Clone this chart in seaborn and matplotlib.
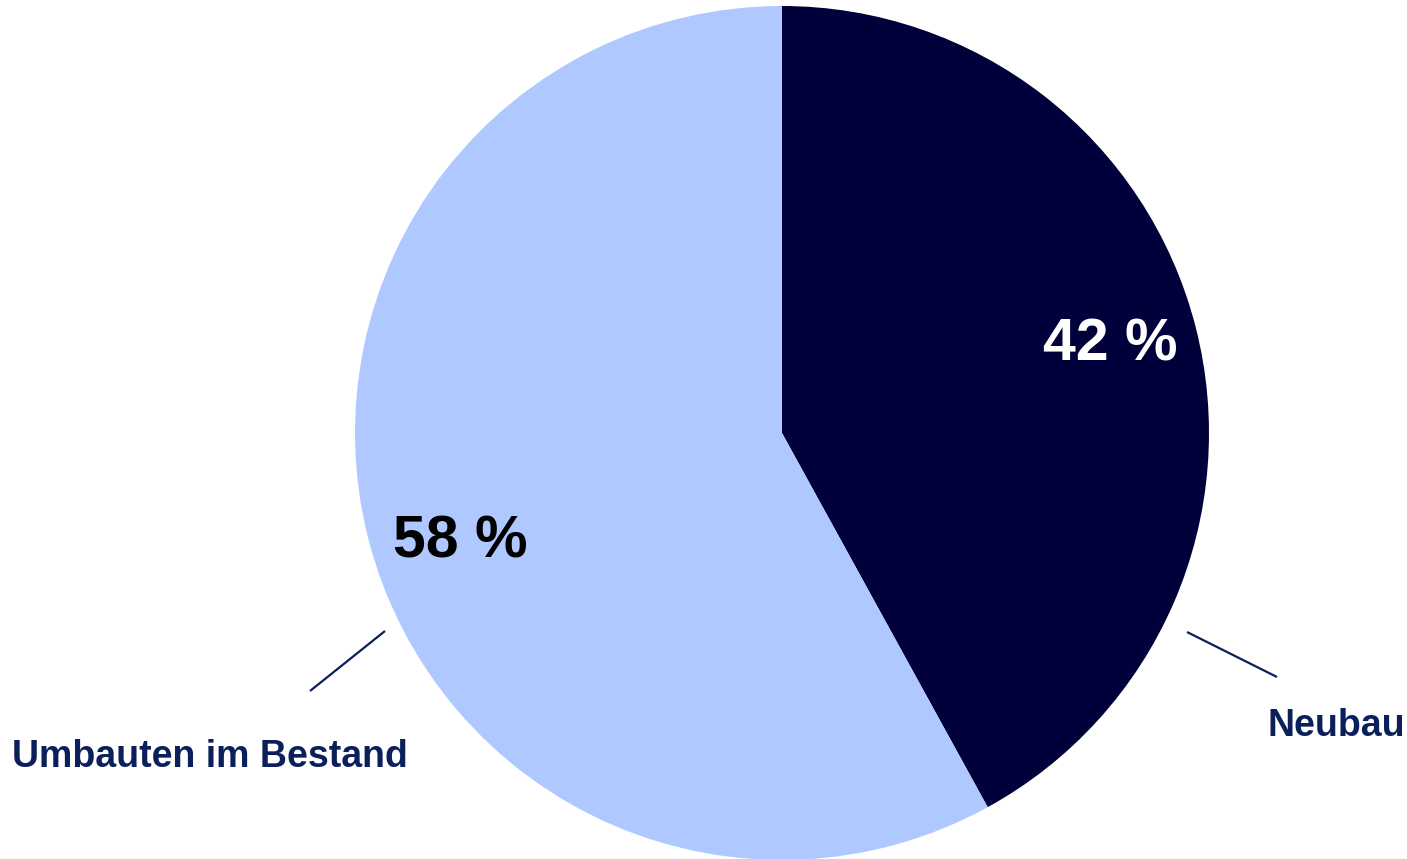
import matplotlib.pyplot as plt
import seaborn as sns

# Daten
kategorien = ["Neubau", "Umbauten im Bestand"]
anteile = [42, 58]
farben = ["#00003A", "#AFC8FF"]
pct_farben = ["white", "black"]
navy = "#0B1F5A"

sns.set_theme(style="white")
plt.rcParams["font.family"] = ["Liberation Sans", "DejaVu Sans"]

W, H = 1407, 859
fig = plt.figure(figsize=(W / 100, H / 100), dpi=100)
ax = fig.add_axes([0, 0, 1, 1])

cx, cy, r = 782, H - 433, 427
wedges, texts, autotexts = ax.pie(
    anteile, colors=farben, startangle=90, counterclock=False,
    center=(cx, cy), radius=r, autopct=lambda p: f"{p:.0f} %",
    pctdistance=0.8, frame=True,
    wedgeprops=dict(linewidth=0, edgecolor="none"),
    textprops=dict(fontsize=42.5, fontweight="bold"))
ax.set_xlim(0, W)
ax.set_ylim(0, H)
ax.set_aspect("equal")
ax.axis("off")

# Beschriftungen (Pixelpositionen)
layout = {
    "Neubau": dict(line=((1187, 632), (1277, 677)), txt=(1268, 726), pct=(1110, 345)),
    "Umbauten im Bestand": dict(line=((385, 631), (310, 691)), txt=(12, 757), pct=(460, 542)),
}
for name, t, c in zip(kategorien, autotexts, pct_farben):
    l = layout[name]
    t.set_color(c)
    t.set_position((l["pct"][0], H - l["pct"][1]))
    (x0, y0), (x1, y1) = l["line"]
    ax.plot([x0, x1], [H - y0, H - y1], color=navy, lw=1.6, solid_capstyle="butt")
    ax.text(l["txt"][0], H - l["txt"][1], name, ha="left", va="center",
            fontsize=27, fontweight="bold", color=navy)

fig.savefig("out.png", dpi=100, facecolor="white")
